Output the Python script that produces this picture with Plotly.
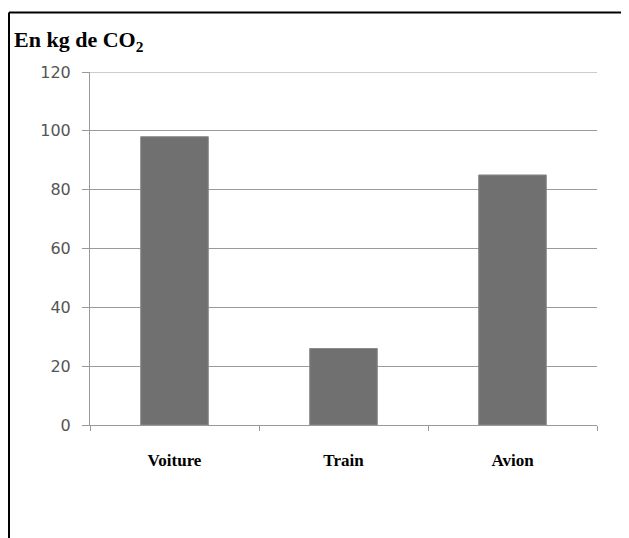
import plotly.graph_objects as go

categories = ["Voiture", "Train", "Avion"]
values = [98, 26, 85]
y_ticks = [0, 20, 40, 60, 80, 100, 120]
title_text = "En kg de CO<sub>2</sub>"

# the page body has an 8px margin, so the figure is offset by 8px
OFF = 8
W, H = 629 - OFF, 538 - OFF
L, R, T, B = 90 - OFF, 32, 72 - OFF, 113
pw, ph = W - L - R, H - T - B

fig = go.Figure(go.Bar(
    x=categories, y=values,
    marker=dict(color="#707070", line=dict(color="#8a8a8a", width=1)),
))

fig.update_layout(
    width=W, height=H,
    margin=dict(l=L, r=R, t=T, b=B, pad=0),
    paper_bgcolor="white", plot_bgcolor="white",
    bargap=0.6, showlegend=False,
    xaxis=dict(
        showline=True, linecolor="#999999", linewidth=1,
        ticks="outside", ticklen=5, tickcolor="#999999", tickson="boundaries",
        showgrid=False,
        tickfont=dict(family="Liberation Serif", size=17, color="black"),
        ticklabelstandoff=20,
        tickprefix="<b>", ticksuffix="</b>",
    ),
    yaxis=dict(
        range=[0, 120], tickvals=y_ticks,
        showline=True, linecolor="#999999", linewidth=1,
        ticks="outside", ticklen=7, tickcolor="#999999",
        showgrid=True, gridcolor="#9a9a9a", gridwidth=1,
        zeroline=False,
        tickfont=dict(family="DejaVu Sans", size=16, color="#555555"),
        ticklabelstandoff=8,
    ),
    font=dict(family="Liberation Serif"),
)

# top gridline at 120 (Plotly omits the gridline on the plot edge)
fig.add_shape(type="line", xref="paper", yref="y", x0=0, x1=1, y0=y_ticks[-1], y1=y_ticks[-1],
              line=dict(color="#9a9a9a", width=1))

# frame lines (top and left) of the original picture
x_left = (9 - OFF - L) / pw
y_top = 1 + (T - (12.5 - OFF)) / ph
fig.add_shape(type="line", xref="paper", yref="paper", x0=x_left, x1=(W + 5 - L) / pw,
              y0=y_top, y1=y_top, line=dict(color="black", width=2))
fig.add_shape(type="line", xref="paper", yref="paper", x0=x_left, x1=x_left,
              y0=y_top, y1=-(B + 5) / ph, line=dict(color="black", width=2))

fig.add_annotation(
    text="<b>" + title_text + "</b>", xref="paper", yref="paper",
    x=(12 - OFF - L) / pw, y=1 + (T - (41 - OFF)) / ph, xanchor="left", yanchor="middle",
    showarrow=False, font=dict(family="Liberation Serif", size=22, color="black"),
)

fig.write_html("out.html")
